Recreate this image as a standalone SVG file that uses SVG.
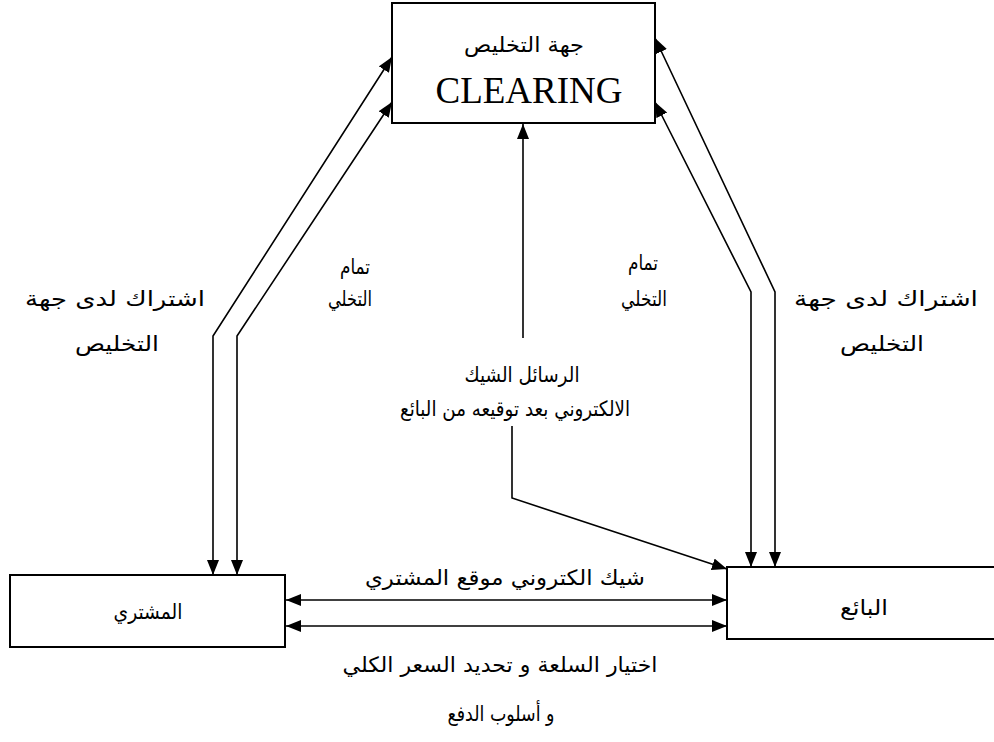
<svg xmlns="http://www.w3.org/2000/svg" width="994" height="742" viewBox="0 0 994 742">
<style>
.box{fill:#fff;stroke:#000;stroke-width:2}
.ar{font-family:"DejaVu Sans",sans-serif;font-size:21px;fill:#000;text-anchor:middle}
.en{font-family:"Liberation Serif",serif;font-size:37px;fill:#000;text-anchor:middle}
.c{fill:none;stroke:#000;stroke-width:1.6}
</style>
<defs>
<marker id="ah" viewBox="0 0 15 12" refX="15" refY="6" markerWidth="15" markerHeight="12" markerUnits="userSpaceOnUse" orient="auto-start-reverse">
<path d="M0,0 L15,6 L0,12 z" fill="#000"/>
</marker>
</defs>
<g id="clearing">
<rect class="box" x="392" y="3" width="263" height="120"/>
<text class="ar" x="524" y="52" font-size="22" textLength="120" lengthAdjust="spacingAndGlyphs">جهة التخليص</text>
<text class="en" x="529" y="103">CLEARING</text>
</g>
<g id="buyer">
<rect class="box" x="10" y="575" width="275" height="72"/>
<text class="ar" x="148" y="619" font-size="20" textLength="69" lengthAdjust="spacingAndGlyphs">المشتري</text>
</g>
<g id="seller">
<rect class="box" x="727" y="567" width="280" height="72"/>
<text class="ar" x="864" y="615" font-size="23" textLength="48" lengthAdjust="spacingAndGlyphs">البائع</text>
</g>
<g id="connectors">
<polyline class="c" points="213,575 213,336 392,57" marker-start="url(#ah)" marker-end="url(#ah)"/>
<polyline class="c" points="237,575 237,336 392,102" marker-start="url(#ah)" marker-end="url(#ah)"/>
<polyline class="c" points="775,567 775,292 655,38" marker-start="url(#ah)" marker-end="url(#ah)"/>
<polyline class="c" points="751,567 751,292 655,102" marker-start="url(#ah)" marker-end="url(#ah)"/>
<line class="c" x1="523" y1="338" x2="523" y2="124" marker-end="url(#ah)"/>
<polyline class="c" points="512,426 512,498 727,569" marker-end="url(#ah)"/>
<line class="c" x1="286" y1="600" x2="727" y2="600" marker-start="url(#ah)" marker-end="url(#ah)"/>
<line class="c" x1="286" y1="626" x2="727" y2="626" marker-start="url(#ah)" marker-end="url(#ah)"/>
</g>
<g id="labels">
<text class="ar" x="115" y="306" font-size="24" textLength="180" lengthAdjust="spacingAndGlyphs">اشتراك لدى جهة</text>
<text class="ar" x="117" y="351" font-size="24" textLength="84" lengthAdjust="spacingAndGlyphs">التخليص</text>
<text class="ar" x="355" y="274" textLength="30" lengthAdjust="spacingAndGlyphs">تمام</text>
<text class="ar" x="350" y="306" font-size="20" textLength="44" lengthAdjust="spacingAndGlyphs">التخلي</text>
<text class="ar" x="643" y="270" textLength="30" lengthAdjust="spacingAndGlyphs">تمام</text>
<text class="ar" x="644" y="306" font-size="20" textLength="46" lengthAdjust="spacingAndGlyphs">التخلي</text>
<text class="ar" x="886" y="306" font-size="24" textLength="184" lengthAdjust="spacingAndGlyphs">اشتراك لدى جهة</text>
<text class="ar" x="882" y="351" font-size="24" textLength="84" lengthAdjust="spacingAndGlyphs">التخليص</text>
<text class="ar" x="522" y="382" textLength="115" lengthAdjust="spacingAndGlyphs">الرسائل الشيك</text>
<text class="ar" x="515" y="416" font-size="20" textLength="230" lengthAdjust="spacingAndGlyphs">الالكتروني بعد توقيعه من البائع</text>
<text class="ar" x="505" y="585" font-size="23" textLength="280" lengthAdjust="spacingAndGlyphs">شيك الكتروني موقع المشتري</text>
<text class="ar" x="500" y="672" font-size="22" textLength="315" lengthAdjust="spacingAndGlyphs">اختيار السلعة و تحديد السعر الكلي</text>
<text class="ar" x="501" y="721" font-size="20" textLength="107" lengthAdjust="spacingAndGlyphs">و أسلوب الدفع</text>
</g>
</svg>
